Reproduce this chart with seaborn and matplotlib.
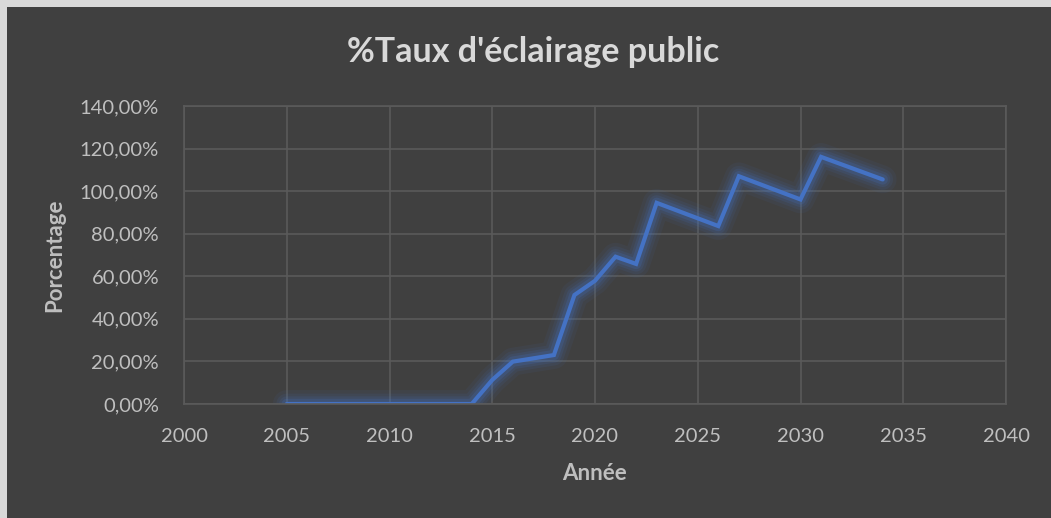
import matplotlib
matplotlib.use("Agg")
import matplotlib.pyplot as plt
import matplotlib.patches as mpatches
import matplotlib.ticker as mticker
import seaborn as sns
import pandas as pd

years = [2005, 2014, 2015, 2016, 2018, 2019, 2020, 2021, 2022, 2023, 2026, 2027, 2030, 2031, 2034]
rates = [0.0, 0.0, 11.3, 19.9, 23.0, 51.2, 57.9, 69.2, 65.8, 94.5, 83.6, 107.0, 96.1, 116.1, 105.5]
title = "%Taux d'éclairage public"
xlabel = "Année"
ylabel = "Porcentage"

df = pd.DataFrame({"Année": years, "Taux": rates})

sns.set_theme(style="dark")
plt.rcParams['font.family'] = ['Lato', 'DejaVu Sans']

BG = "#404040"
GRID = "#5a5a5a"
TXT = "#bfbfbf"
LINE = "#4472c4"

W, H = 1051, 518
fig = plt.figure(figsize=(W / 100, H / 100), dpi=100, facecolor=BG)
# light frame on the left and top edges
fig.add_artist(mpatches.Rectangle((0, 0), 7 / W, 1, transform=fig.transFigure,
                                  facecolor="#d9d9d9", edgecolor="none", zorder=-5))
fig.add_artist(mpatches.Rectangle((0, 1 - 7 / H), 1, 7 / H, transform=fig.transFigure,
                                  facecolor="#d9d9d9", edgecolor="none", zorder=-5))

left, right, top, bottom = 184, 1006, 106, 404
ax = fig.add_axes([left / W, 1 - bottom / H, (right - left) / W, (bottom - top) / H])
ax.set_facecolor(BG)

# glow
for lw, a in [(20, 0.07), (15, 0.09), (11, 0.13), (7.5, 0.2)]:
    sns.lineplot(data=df, x="Année", y="Taux", ax=ax, color=LINE, linewidth=lw, alpha=a,
                 solid_joinstyle="round", solid_capstyle="round", legend=False)
sns.lineplot(data=df, x="Année", y="Taux", ax=ax, color=LINE, linewidth=3.0,
             solid_joinstyle="miter", solid_capstyle="round", legend=False)

ax.set_xlim(2000, 2040)
ax.set_ylim(0, 140)
ax.xaxis.set_major_locator(mticker.MultipleLocator(5))
ax.yaxis.set_major_locator(mticker.MultipleLocator(20))
ax.yaxis.set_major_formatter(mticker.FuncFormatter(lambda v, p: f"{v:.2f}%".replace(".", ",")))
ax.grid(True, color=GRID, linewidth=1.2)
ax.set_axisbelow(True)
for s in ax.spines.values():
    s.set_visible(True)
    s.set_color(GRID)
    s.set_linewidth(1.2)
ax.tick_params(axis="both", colors=TXT, labelsize=14.5, length=0)
ax.tick_params(axis="y", pad=18)
ax.tick_params(axis="x", pad=17)

ax.set_xlabel("")
ax.set_ylabel("")
fig.text(595 / W, 1 - 474 / H, xlabel, color=TXT, fontsize=16, fontweight="bold",
         ha="center", va="center")
fig.text(55 / W, 1 - 255 / H, ylabel, color=TXT, fontsize=16, fontweight="bold",
         ha="center", va="center", rotation=90)

fig.text(533 / W, 1 - 52 / H, title, color="#d9d9d9", fontsize=24.5, fontweight="bold",
         ha="center", va="center")

fig.savefig("out.png", dpi=100, facecolor=fig.get_facecolor())
